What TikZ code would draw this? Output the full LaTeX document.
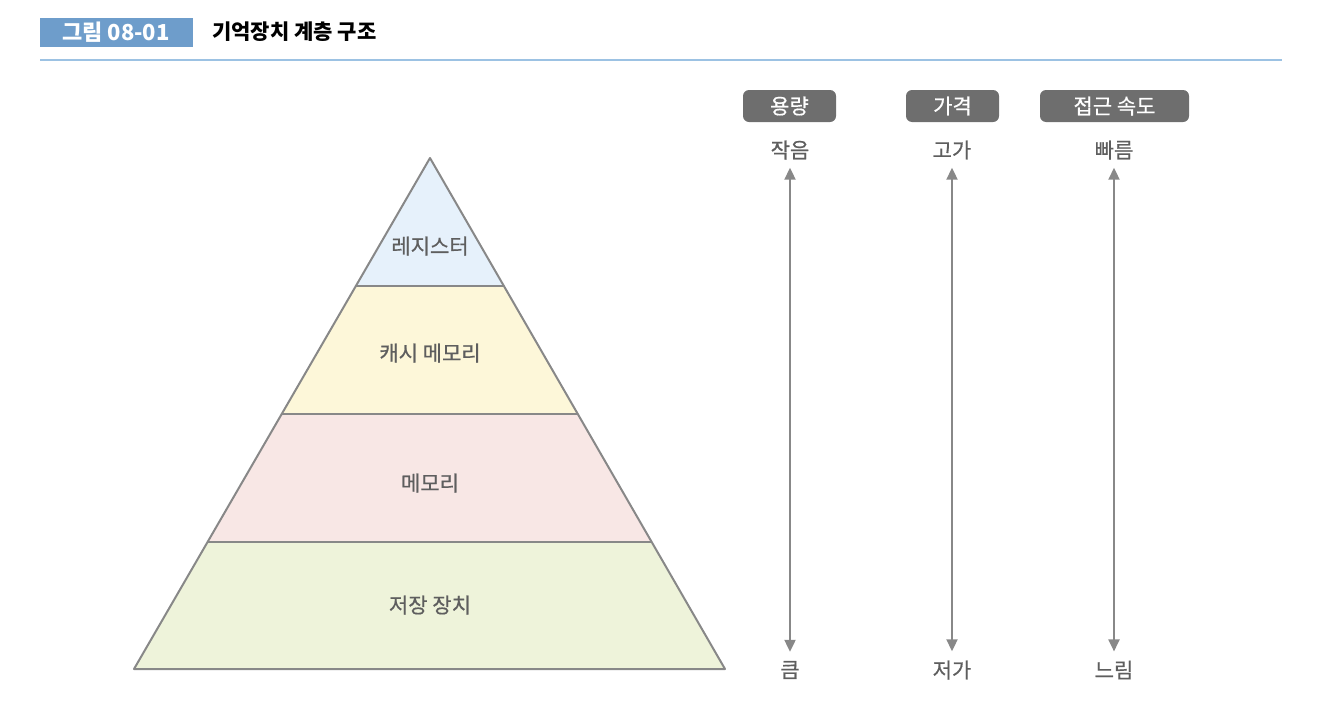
\documentclass[tikz,border=0pt]{standalone}
\usepackage{fontspec}
\setmainfont{Noto Sans CJK KR}
\newfontfamily\medfont[FakeBold=0.6]{Noto Sans CJK KR}
\usetikzlibrary{arrows.meta}
\definecolor{hdrblue}{HTML}{6E9DCB}
\definecolor{rulblue}{HTML}{9CC2E3}
\definecolor{edge}{HTML}{888888}
\definecolor{txtgrey}{HTML}{5E5E5E}
\definecolor{lblgrey}{HTML}{6E6E6E}
\definecolor{fillA}{HTML}{E6F1FB}
\definecolor{fillB}{HTML}{FDF7D9}
\definecolor{fillC}{HTML}{F8E7E5}
\definecolor{fillD}{HTML}{EEF3DA}
\tikzset{
  layer/.style={draw=edge, line width=2pt, line join=round},
  layertext/.style={font=\medfont\fontsize{21}{24}\selectfont, text=txtgrey, inner sep=0pt},
  catbox/.style={fill=lblgrey, rounded corners=6pt, text=white, font=\medfont\fontsize{21}{24}\selectfont, inner sep=0pt, minimum height=32pt, anchor=center},
  endtext/.style={font=\medfont\fontsize{21}{24}\selectfont, text=txtgrey, inner sep=0pt},
  scale arrow/.style={draw=edge, line width=2pt, {Triangle[length=12pt,width=11pt]}-{Triangle[length=12pt,width=11pt]}},
}
\begin{document}
\begin{tikzpicture}[x=1pt,y=-1pt]
\useasboundingbox (0,0) rectangle (1340,710);
% header
\node[fill=hdrblue, minimum width=153pt, minimum height=29pt, inner sep=0pt, anchor=north west] (hdr) at (40,18) {};
\node[text=white, font=\bfseries\fontsize{22}{24}\selectfont, inner sep=0pt] (hdrtxt) at (116,32) {그림 08-01};
\node[text=black, font=\bfseries\fontsize{21}{24}\selectfont, inner sep=0pt, anchor=west] (title) at (212,32) {기억장치 계층 구조};
\coordinate (ruleL) at (40,60);
\coordinate (ruleR) at (1282,60);
\draw[rulblue, line width=1.5pt] (ruleL) -- (ruleR);
% pyramid
\coordinate (apex) at (430,158);
\coordinate (l1) at (356,286); \coordinate (r1) at (504,286);
\coordinate (l2) at (282,414); \coordinate (r2) at (578,414);
\coordinate (l3) at (208,542); \coordinate (r3) at (652,542);
\coordinate (l4) at (134,669); \coordinate (r4) at (725,669);
\fill[fillA] (apex) -- (l1) -- (r1) -- cycle;
\fill[fillB] (l1) -- (l2) -- (r2) -- (r1) -- cycle;
\fill[fillC] (l2) -- (l3) -- (r3) -- (r2) -- cycle;
\fill[fillD] (l3) -- (l4) -- (r4) -- (r3) -- cycle;
\draw[layer] (apex) -- (l4) -- (r4) -- cycle;
\draw[layer] (l1) -- (r1);
\draw[layer] (l2) -- (r2);
\draw[layer] (l3) -- (r3);
\node[layertext] (reg) at (430,246) {레지스터};
\node[layertext] (cache) at (430,353) {캐시 메모리};
\node[layertext] (mem) at (430,483) {메모리};
\node[layertext] (stor) at (430,605) {저장 장치};
% scales
\node[catbox, minimum width=93pt] (cap) at (789.5,106) {용량};
\node[catbox, minimum width=93pt] (price) at (952.5,106) {가격};
\node[catbox, minimum width=149pt] (speed) at (1114.5,106) {접근 속도};
\node[endtext] (capT) at (790,150) {작음};
\node[endtext] (priceT) at (952,150) {고가};
\node[endtext] (speedT) at (1114,150) {빠름};
\node[endtext] (capB) at (790,670) {큼};
\node[endtext] (priceB) at (952,670) {저가};
\node[endtext] (speedB) at (1114,670) {느림};
\draw[scale arrow] ([yshift=-8pt]capT.south) -- ([yshift=9pt]capB.north);
\draw[scale arrow] ([yshift=-8pt]priceT.south) -- ([yshift=9pt]priceB.north);
\draw[scale arrow] ([yshift=-8pt]speedT.south) -- ([yshift=9pt]speedB.north);
\end{tikzpicture}
\end{document}
